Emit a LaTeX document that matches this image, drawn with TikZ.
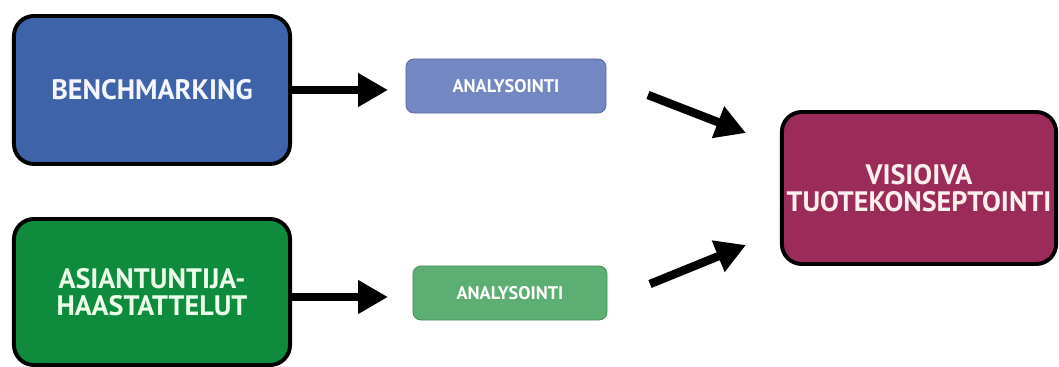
\documentclass[tikz,border=0pt]{standalone}
\usepackage{fontspec}
\setmainfont{PT Sans}
\usetikzlibrary{positioning,arrows.meta}
\usepackage{xcolor}
\definecolor{benchblue}{HTML}{3F63A8}
\definecolor{anablue}{HTML}{7387C2}
\definecolor{expgreen}{HTML}{0E8B3C}
\definecolor{anagreen}{HTML}{5CAE72}
\definecolor{vismaroon}{HTML}{9B2B58}

\begin{document}
\begin{tikzpicture}[
  x=0.025cm, y=-0.025cm,
  src/.style={draw=black, line width=2.8pt, rounded corners=0.5cm, minimum width=6.9cm, minimum height=3.7cm, align=center, font=\bfseries\fontsize{20}{19.5}\selectfont},
  ana/.style={draw=#1!80!black, line width=0.6pt, fill=#1, rounded corners=0.2cm, minimum height=1.35cm, font=\bfseries\fontsize{13}{15}\selectfont, text=white},
  arr/.style={line width=6pt, -{Triangle[length=0.75cm, width=0.8cm]}}
]
  \useasboundingbox (0,0) rectangle (1059,367);
  \node[src, fill=benchblue, text=blue!4] (bench) at (152,90) {BENCHMARKING};
  \node[src, fill=expgreen, text=green!8, minimum height=3.65cm] (expert) at (152,292) {ASIANTUNTIJA-\\HAASTATTELUT};
  \node[ana=anablue, minimum width=5cm] (ana1) at (506,86) {ANALYSOINTI};
  \node[ana=anagreen, minimum width=4.85cm] (ana2) at (510,293) {ANALYSOINTI};
  \node[src, fill=vismaroon, text=pink!25, minimum width=6.65cm, minimum height=3.8cm] (vision) at (919,188) {VISIOIVA\\TUOTEKONSEPTOINTI};

  \coordinate (out1) at (648,95);
  \coordinate (in1) at (746,133);
  \coordinate (out2) at (650,284);
  \coordinate (in2) at (746,245);

  \draw[arr] (bench.east) -- ++(96,0);
  \draw[arr] (expert.east |- 0,297) -- ++(96,0);
  \draw[arr] (out1) -- (in1);
  \draw[arr] (out2) -- (in2);
\end{tikzpicture}
\end{document}
